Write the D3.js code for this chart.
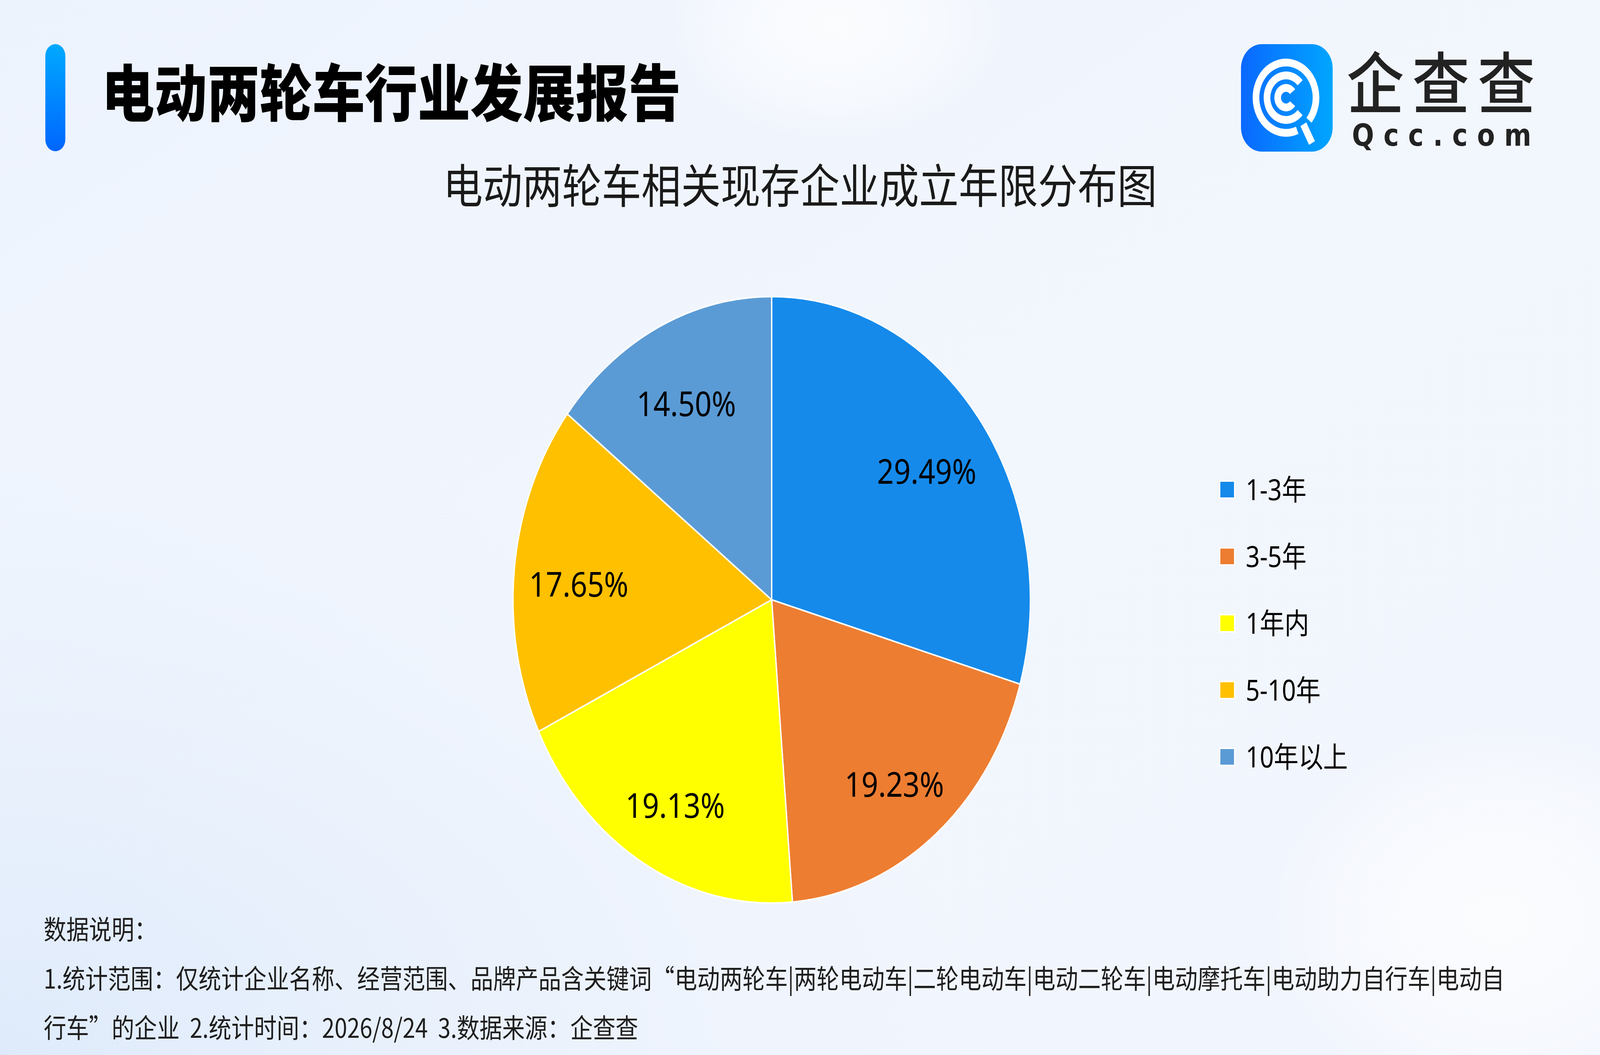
<!DOCTYPE html>
<html>
<head>
<meta charset="utf-8">
<script src="https://cdn.jsdelivr.net/npm/d3@7"></script>
<style>
html,body{margin:0;padding:0;overflow:hidden;background:#eff4fd;width:100%;height:100%;}
svg{display:block;position:absolute;left:0;top:0;width:100%;height:100%;}
</style>
</head>
<body>
<script>
// ---- data ----
const categories = ["1-3年", "3-5年", "1年内", "5-10年", "10年以上"];
const values = [29.49, 19.23, 19.13, 17.65, 14.50];
const valueLabels = ["29.49%", "19.23%", "19.13%", "17.65%", "14.50%"];
const colors = ["#158AEB", "#ED7D31", "#FFFF00", "#FFC000", "#5B9BD5"];
const mainTitle = "电动两轮车行业发展报告";
const chartTitle = "电动两轮车相关现存企业成立年限分布图";
const notes = [
  "数据说明：",
  "1.统计范围：仅统计企业名称、经营范围、品牌产品含关键词“电动两轮车|两轮电动车|二轮电动车|电动二轮车|电动摩托车|电动助力自行车|电动自",
  "行车”的企业  2.统计时间：2026/8/24  3.数据来源：企查查"
];

const W = 4800, H = 2700;
const CJK = "'Noto Sans CJK SC','Noto Sans',sans-serif";
const LAT = "'Noto Sans','Noto Sans CJK SC',sans-serif";

const svg = d3.select("body").append("svg")
  .attr("viewBox", `0 0 ${W} ${H}`).attr("preserveAspectRatio","none");
const defs = svg.append("defs");

// background
const bg = defs.append("linearGradient").attr("id","bg").attr("x1","0").attr("y1","0").attr("x2","1").attr("y2","1");
bg.append("stop").attr("offset","0").attr("stop-color","#edf3fd");
bg.append("stop").attr("offset","0.5").attr("stop-color","#f2f6fd");
bg.append("stop").attr("offset","1").attr("stop-color","#f1f5fd");
svg.append("rect").attr("width",W).attr("height",H).attr("fill","url(#bg)");

const bl = defs.append("radialGradient").attr("id","bl").attr("cx","0").attr("cy","1").attr("r","0.6");
bl.append("stop").attr("offset","0").attr("stop-color","#dce9fb").attr("stop-opacity",0.9);
bl.append("stop").attr("offset","1").attr("stop-color","#e6effc").attr("stop-opacity",0);
svg.append("rect").attr("width",W).attr("height",H).attr("fill","url(#bl)");

const glow = defs.append("radialGradient").attr("id","glow");
glow.append("stop").attr("offset","0").attr("stop-color","#ffffff").attr("stop-opacity",0.75);
glow.append("stop").attr("offset","0.7").attr("stop-color","#ffffff").attr("stop-opacity",0.35);
glow.append("stop").attr("offset","1").attr("stop-color","#ffffff").attr("stop-opacity",0);
svg.append("ellipse").attr("cx",2500).attr("cy",60).attr("rx",520).attr("ry",300).attr("fill","url(#glow)");
svg.append("ellipse").attr("cx",4500).attr("cy",2350).attr("rx",700).attr("ry",500).attr("fill","url(#glow)");

// title bar
const barG = defs.append("linearGradient").attr("id","barG").attr("x1","0").attr("y1","0").attr("x2","0").attr("y2","1");
barG.append("stop").attr("offset","0").attr("stop-color","#00a9ff");
barG.append("stop").attr("offset","1").attr("stop-color","#0066ff");
svg.append("rect").attr("x",136).attr("y",113).attr("width",60).attr("height",274).attr("rx",30).attr("ry",30).attr("fill","url(#barG)");

svg.append("text").attr("x",305).attr("y",297)
  .attr("font-family",CJK).attr("font-weight",900).attr("font-size",158)
  .attr("fill","#000").text(mainTitle);

// logo
const logoG = defs.append("linearGradient").attr("id","logoG").attr("x1","0").attr("y1","0").attr("x2","1").attr("y2","0");
logoG.append("stop").attr("offset","0").attr("stop-color","#0a68ff");
logoG.append("stop").attr("offset","1").attr("stop-color","#00a6ff");
const logo = svg.append("g").attr("transform","translate(3723,113)");
logo.append("rect").attr("width",275).attr("height",275).attr("rx",62).attr("fill","url(#logoG)");
const lc = logo.append("g").attr("transform","translate(135,137)");
const deg = Math.PI/180;
const ring = (r, a0, a1) => d3.arc().innerRadius(r-10).outerRadius(r+10).startAngle(a0*deg).endAngle(a1*deg)();
lc.append("path").attr("d", ring(90, 158, 490)).attr("fill","#fff");
lc.append("path").attr("d", ring(57, 132, 408)).attr("fill","#fff");
lc.append("path").attr("d", ring(25, 128, 412)).attr("fill","#fff");
lc.append("line").attr("x1",52).attr("y1",68).attr("x2",78).attr("y2",116).attr("stroke","#fff").attr("stroke-width",20);

svg.append("text").attr("x",4040).attr("y",277)
  .attr("font-family",CJK).attr("font-weight",500).attr("font-size",172)
  .attr("fill","#222").attr("textLength",565).attr("lengthAdjust","spacing").text("企查查");
svg.append("text").attr("x",4056).attr("y",373)
  .attr("font-family","'DejaVu Sans',sans-serif").attr("font-weight",700).attr("font-size",78)
  .attr("fill","#222").attr("textLength",538).attr("lengthAdjust","spacing").text("Qcc.com");

// chart title
svg.append("text").attr("x",2400).attr("y",520).attr("text-anchor","middle")
  .attr("font-family",CJK).attr("font-size",119).attr("fill","#1a1a1a").text(chartTitle);

// pie
const cx = 2315, cy = 1535, R = 776;
const pie = d3.pie().sort(null).value(d => d.v).startAngle(0).endAngle(2*Math.PI);
const data = categories.map((c,i) => ({c, v: values[i], label: valueLabels[i], color: colors[i]}));
const arcs = pie(data);
const arc = d3.arc().innerRadius(0).outerRadius(R);
const labelArc = d3.arc().innerRadius(R*0.75).outerRadius(R*0.75);
const pg = svg.append("g").attr("transform",`translate(${cx},${cy})`);
pg.selectAll("path").data(arcs).join("path")
  .attr("d", arc).attr("fill", d => d.data.color)
  .attr("stroke","#fff").attr("stroke-width",4).attr("stroke-linejoin","round");
pg.selectAll("text").data(arcs).join("text")
  .attr("transform", d => `translate(${labelArc.centroid(d)})`)
  .attr("text-anchor","middle").attr("dy","0.6em")
  .attr("font-family",LAT).attr("font-size",88).attr("fill","#000")
  .text(d => d.data.label);

// legend
const ly = d3.scalePoint().domain(categories).range([1253, 1937]);
const lg = svg.append("g");
const items = lg.selectAll("g").data(data).join("g").attr("transform", d => `translate(3659,${ly(d.c)})`);
items.append("rect").attr("x",0).attr("y",-22).attr("width",45).attr("height",44)
  .attr("fill", d => d.color).attr("stroke","#fff").attr("stroke-width",4);
items.append("text").attr("x",78).attr("y",0).attr("dy","0.36em")
  .attr("font-family",LAT).attr("font-size",74).attr("fill","#000").text(d => d.c);

// notes
const ny = d3.scalePoint().domain(d3.range(notes.length)).range([2404, 2656]);
svg.append("g").selectAll("text").data(notes).join("text")
  .attr("x",131).attr("y",(d,i) => ny(i))
  .attr("font-family",CJK).attr("font-size",68).attr("fill","#1e1e1e")
  .attr("xml:space","preserve").style("white-space","pre")
  .text(d => d);
</script>
</body>
</html>
